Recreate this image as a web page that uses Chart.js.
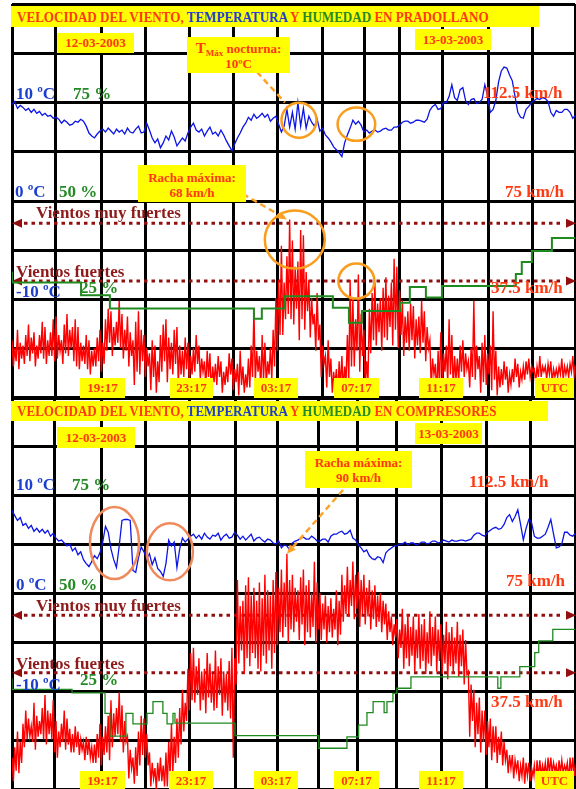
<!DOCTYPE html>
<html lang="es">
<head>
<meta charset="utf-8">
<title>Velocidad del viento, temperatura y humedad</title>
<script src="https://cdn.jsdelivr.net/npm/chart.js@4/dist/chart.umd.min.js"></script>
<style>
  html, body { margin: 0; padding: 0; background: #fff; }
  body { position: relative; width: 576px; height: 789px; overflow: hidden;
         font-family: "Liberation Serif", "Times New Roman", serif; font-weight: bold; }
  canvas { position: absolute; left: 0; }
  #pradollano { top: 0; }
  #compresores { top: 396px; }
  .t { position: absolute; white-space: nowrap; line-height: 1; font-size: 17px; }
  .az { color: #1d3fcf; }
  .vd { color: #258a25; }
  .rj { color: #ff3a12; }
  .gr { color: #8e1b1b; }
  .caja { position: absolute; background: #ffff00; color: #ff3a12; font-size: 13px;
          text-align: center; white-space: nowrap; box-sizing: border-box; }
  .dos { line-height: 15px; }
  .titulo { position: absolute; background: #ffff00; }
  .titulo .txt { position: absolute; left: 5.5px; font-size: 15px; line-height: 1; white-space: nowrap;
                 transform: scaleX(0.87); transform-origin: left top; }
  .tm { font-size: 15px; }
  .sub { font-size: 9px; vertical-align: -3px; line-height: 0; }
</style>
</head>
<body>
<canvas id="pradollano" width="576" height="400"></canvas>
<canvas id="compresores" width="576" height="393"></canvas>

<!-- Pradollano -->
<div class="titulo" style="left:11px;top:6px;width:528px;height:21px">
  <span class="txt" style="top:4px"><span class="rj">VELOCIDAD DEL VIENTO, </span><span class="az">TEMPERATURA</span> <span class="rj">Y</span> <span class="vd">HUMEDAD</span> <span class="rj">EN PRADOLLANO</span></span>
</div>
<div class="caja" style="left:57px;top:33px;width:77px;height:20px;line-height:20px">12-03-2003</div>
<div class="caja" style="left:415px;top:29px;width:76px;height:21px;line-height:21px">13-03-2003</div>
<div class="caja dos" style="left:187px;top:37px;width:103px;height:36px;padding-top:4px"><span class="tm">T</span><span class="sub">Máx</span> nocturna:<br>10ºC</div>
<div class="caja dos" style="left:138px;top:165px;width:108px;height:37px;padding-top:5px">Racha máxima:<br>68 km/h</div>

<div class="t az" style="left:16px;top:85px">10 ºC</div>
<div class="t vd" style="left:73px;top:85px">75 %</div>
<div class="t az" style="left:15px;top:183px">0 ºC</div>
<div class="t vd" style="left:59px;top:183px">50 %</div>
<div class="t az" style="left:16px;top:283px">-10 ºC</div>
<div class="t vd" style="left:80px;top:279px">25 %</div>
<div class="t rj" style="left:483px;top:84px">112.5 km/h</div>
<div class="t rj" style="left:505px;top:183px">75 km/h</div>
<div class="t rj" style="left:491px;top:279px">37.5 km/h</div>
<div class="t gr" style="left:36px;top:204px">Vientos muy fuertes</div>
<div class="t gr" style="left:16px;top:263px">Vientos fuertes</div>

<div class="caja" style="left:80px;top:378px;width:45px;height:20px;line-height:20px">19:17</div>
<div class="caja" style="left:170px;top:378px;width:43px;height:20px;line-height:20px">23:17</div>
<div class="caja" style="left:254px;top:378px;width:44px;height:20px;line-height:20px">03:17</div>
<div class="caja" style="left:334px;top:378px;width:45px;height:20px;line-height:20px">07:17</div>
<div class="caja" style="left:419px;top:378px;width:44px;height:20px;line-height:20px">11:17</div>
<div class="caja" style="left:535px;top:378px;width:39px;height:20px;line-height:20px">UTC</div>

<!-- Compresores -->
<div class="titulo" style="left:11px;top:401px;width:537px;height:20px">
  <span class="txt" style="top:3px"><span class="rj">VELOCIDAD DEL VIENTO, </span><span class="az">TEMPERATURA</span> <span class="rj">Y</span> <span class="vd">HUMEDAD</span> <span class="rj">EN COMPRESORES</span></span>
</div>
<div class="caja" style="left:57px;top:427px;width:78px;height:21px;line-height:21px">12-03-2003</div>
<div class="caja" style="left:415px;top:423px;width:67px;height:21px;line-height:21px">13-03-2003</div>
<div class="caja dos" style="left:305px;top:451px;width:107px;height:37px;padding-top:4px">Racha máxima:<br>90 km/h</div>

<div class="t az" style="left:16px;top:476px">10 ºC</div>
<div class="t vd" style="left:72px;top:476px">75 %</div>
<div class="t az" style="left:16px;top:576px">0 ºC</div>
<div class="t vd" style="left:59px;top:576px">50 %</div>
<div class="t az" style="left:16px;top:676px">-10 ºC</div>
<div class="t vd" style="left:80px;top:671px">25 %</div>
<div class="t rj" style="left:469px;top:473px">112.5 km/h</div>
<div class="t rj" style="left:506px;top:572px">75 km/h</div>
<div class="t rj" style="left:491px;top:693px">37.5 km/h</div>
<div class="t gr" style="left:36px;top:597px">Vientos muy fuertes</div>
<div class="t gr" style="left:16px;top:655px">Vientos fuertes</div>

<div class="caja" style="left:80px;top:771px;width:45px;height:20px;line-height:20px">19:17</div>
<div class="caja" style="left:169px;top:771px;width:44px;height:20px;line-height:20px">23:17</div>
<div class="caja" style="left:254px;top:771px;width:44px;height:20px;line-height:20px">03:17</div>
<div class="caja" style="left:334px;top:771px;width:45px;height:20px;line-height:20px">07:17</div>
<div class="caja" style="left:419px;top:771px;width:44px;height:20px;line-height:20px">11:17</div>
<div class="caja" style="left:535px;top:771px;width:39px;height:20px;line-height:20px">UTC</div>

<script>
// Registro del 12-03-2003 15:15 al 13-03-2003 (horas desde el inicio)
const PASO = 0.125;     // horas entre muestras
const HORAS = 25.6;

// km/h: 0 abajo, 150 arriba; temperatura -20..20 ºC; humedad 0..100 %
const rejillaViento = [0, 18.75, 37.5, 56.25, 75, 93.75, 112.5, 131.25, 150];
const umbralFuertes = 44.5;
const umbralMuyFuertes = 66.5;

// ---- Pradollano ----
const pradRejillaHoras = [0, 2.0, 4.05, 6.05, 8.09, 10.09, 12.09, 14.14, 16.05, 17.64, 19.59, 21.68, 23.68, 25.6];

// máximo y mínimo del viento en cada intervalo
const pradVientoMax = [
  22, 19, 26, 21, 20, 24, 28, 23, 25, 20, 24, 29, 27, 22, 25, 30, 31, 24, 22, 28,
  32, 26, 27, 30, 27, 21, 20, 24, 22, 18, 19, 23, 26, 21, 30, 34, 33, 27, 29, 37,
  32, 26, 31, 25, 22, 29, 33, 26, 24, 19, 17, 22, 20, 14, 24, 28, 30, 23, 21, 26,
  27, 20, 18, 23, 21, 16, 19, 24, 20, 15, 14, 18, 17, 12, 13, 16, 14, 10, 12, 17,
  15, 11, 13, 18, 12, 9, 15, 20, 34, 18, 16, 24, 21, 14, 19, 26, 38, 45, 58, 44,
  54, 68, 60, 50, 52, 64, 62, 48, 45, 38, 32, 40, 28, 20, 16, 22, 15, 10, 11, 14,
  16, 12, 24, 45, 38, 30, 47, 32, 26, 14, 34, 40, 44, 36, 38, 42, 46, 39, 44, 53,
  50, 41, 37, 31, 33, 36, 35, 30, 31, 37, 33, 27, 22, 15, 13, 18, 25, 17, 20, 30,
  24, 16, 15, 20, 22, 17, 14, 19, 37, 20, 16, 21, 24, 17, 20, 33, 18, 12, 11, 14,
  12, 9, 11, 15, 13, 10, 12, 14, 15, 12, 11, 12, 16, 12, 12, 13, 14, 11, 11, 12,
  15, 12, 12, 13, 16, 13];
const pradVientoMin = [
  12, 14, 11, 15, 13, 16, 14, 17, 12, 15, 17, 15, 13, 16, 16, 14, 15, 18, 13, 17,
  16, 19, 14, 12, 11, 14, 13, 11, 9, 12, 12, 14, 10, 13, 18, 21, 16, 20, 21, 19,
  15, 18, 12, 16, 5, 10, 9, 14, 8, 12, 3, 8, 2, 6, 10, 14, 6, 11, 9, 13,
  5, 9, 8, 11, 6, 9, 10, 13, 7, 10, 4, 8, 2, 6, 5, 8, 2, 5, 6, 9,
  3, 6, 1, 5, 2, 4, 4, 8, 6, 10, 3, 7, 5, 9, 7, 12, 18, 24, 24, 30,
  32, 30, 28, 34, 22, 30, 26, 33, 23, 28, 18, 22, 8, 13, 4, 8, 2, 5, 1, 4,
  3, 6, 6, 12, 12, 18, 10, 16, 3, 7, 17, 22, 20, 25, 18, 23, 22, 27, 20, 26,
  19, 24, 16, 21, 18, 22, 15, 20, 17, 21, 14, 19, 4, 9, 1, 5, 6, 10, 5, 9,
  3, 7, 6, 10, 8, 11, 4, 8, 7, 11, 2, 6, 5, 9, 3, 7, 1, 4, 5, 7,
  2, 5, 6, 8, 4, 7, 7, 9, 8, 10, 6, 8, 8, 10, 7, 9, 6, 8, 8, 9,
  7, 9, 8, 10, 9, 11];
const pradTemp = [
  9.8, 10.1, 9.4, 9.7, 9.5, 9.2, 9.4, 9.0, 9.3, 8.9, 9.1, 8.7, 8.9, 8.6, 8.7, 8.4, 8.5, 8.3, 7.9, 8.2,
  8.0, 7.7, 7.8, 8.1, 8.0, 8.3, 8.1, 7.6, 6.9, 6.6, 6.4, 6.8, 7.1, 7.3, 7.0, 7.4, 7.1, 6.8, 7.3, 7.0,
  7.2, 6.8, 7.4, 7.0, 6.9, 7.3, 7.6, 6.9, 7.0, 7.9, 7.2, 6.4, 5.9, 6.3, 5.4, 5.9, 6.6, 6.2, 7.1, 6.5,
  5.6, 6.0, 6.4, 6.1, 6.9, 7.5, 7.9, 7.2, 7.0, 7.3, 6.6, 7.1, 7.5, 6.8, 7.0, 6.6, 7.2, 6.7, 6.1, 5.6,
  5.1, 5.8, 6.4, 6.9, 7.5, 7.9, 8.5, 8.2, 8.8, 8.4, 8.6, 8.9, 8.5, 8.8, 8.1, 8.4, 8.6, 7.8, 7.0, 7.6,
  9.3, 7.5, 9.0, 7.3, 10.0, 7.6, 9.4, 7.4, 8.6, 8.0, 7.6, 8.3, 7.1, 7.4, 6.7, 6.4, 6.0, 5.5, 5.2, 4.9,
  4.5, 5.9, 6.7, 7.4, 8.2, 7.8, 8.1, 7.7, 7.0, 7.2, 6.9, 7.1, 7.2, 7.0, 7.1, 7.3, 7.4, 7.2, 7.2, 7.5,
  7.5, 7.7, 8.0, 8.1, 8.1, 7.9, 8.0, 8.2, 8.2, 8.1, 8.0, 8.3, 9.2, 9.6, 9.8, 9.3, 9.4, 10.0, 10.0, 10.6,
  11.8, 10.5, 10.2, 11.3, 11.5, 10.2, 9.8, 10.3, 10.4, 9.9, 10.0, 10.3, 11.8, 10.7, 9.0, 9.3, 10.2, 12.1, 13.2, 13.6,
  13.5, 12.8, 12.2, 10.6, 9.0, 8.5, 8.4, 9.3, 9.6, 10.0, 10.2, 10.4, 10.3, 10.5, 10.4, 10.1, 9.0, 8.6, 9.2, 9.0,
  9.0, 9.3, 9.3, 9.0, 8.4, 8.7];
const pradHumHoras = [0, 3.14, 4.45, 11.0, 11.36, 12.41, 14.59, 15.32, 15.91, 17.64, 18.09, 18.82, 19.55,
  22.91, 23.18, 23.64, 24.55, 25.5, 25.6];
const pradHum = [32.1, 29.3, 26.1, 22.7, 20.1, 22.7, 25.8, 22.9, 19.1, 22.1, 24.2, 28.2, 25.5,
  28.4, 31.5, 34.5, 37.3, 40.6, 40.6];

// ---- Compresores ----
const compRejillaHoras = [0, 1.95, 4.05, 6.05, 8.05, 10.14, 12.09, 13.95, 15.73, 17.5, 19.55, 21.59, 23.59, 25.6];

const compVientoMax = [
  12, 16, 22, 18, 25, 30, 27, 24, 33, 28, 26, 31, 36, 30, 29, 34, 26, 22, 25, 30,
  27, 23, 21, 24, 22, 19, 18, 20, 19, 16, 17, 21, 25, 20, 24, 28, 34, 29, 31, 37,
  32, 26, 20, 15, 12, 16, 22, 28, 27, 21, 14, 10, 8, 10, 12, 9, 14, 18, 25, 20,
  27, 31, 38, 33, 46, 52, 54, 47, 50, 45, 46, 52, 48, 44, 53, 47, 50, 45, 44, 49,
  54, 50, 80, 70, 72, 78, 81, 74, 77, 72, 79, 73, 82, 76, 74, 80, 83, 77, 84, 79,
  90, 80, 82, 77, 76, 81, 84, 78, 80, 75, 87, 79, 75, 71, 74, 70, 73, 69, 76, 72,
  82, 78, 85, 80, 87, 82, 83, 80, 82, 77, 80, 76, 78, 74, 75, 72, 71, 68, 66, 63,
  65, 61, 69, 63, 67, 62, 66, 61, 67, 63, 65, 60, 68, 62, 66, 61, 63, 59, 64, 60,
  62, 58, 64, 59, 61, 57, 45, 40, 38, 33, 35, 30, 30, 26, 27, 24, 24, 20, 22, 18,
  15, 13, 13, 11, 11, 9, 12, 10, 10, 8, 9, 11, 11, 9, 10, 12, 12, 10, 9, 11,
  11, 9, 10, 12, 12, 10];
const compVientoMin = [
  3, 7, 6, 10, 16, 19, 20, 18, 15, 20, 21, 19, 17, 21, 19, 14, 12, 16, 18, 15,
  17, 14, 14, 16, 13, 15, 11, 13, 12, 10, 10, 12, 9, 13, 14, 11, 16, 20, 21, 18,
  14, 18, 4, 8, 2, 5, 9, 13, 12, 9, 1, 4, 0, 3, 3, 1, 1, 5, 6, 10,
  12, 17, 22, 26, 30, 34, 33, 36, 30, 34, 29, 35, 33, 30, 31, 36, 28, 33, 30, 27,
  12, 40, 48, 53, 44, 50, 47, 52, 50, 46, 45, 51, 48, 53, 46, 52, 55, 60, 58, 62,
  56, 61, 60, 64, 57, 63, 55, 60, 58, 62, 56, 61, 57, 61, 56, 60, 58, 61, 55, 59,
  64, 67, 66, 70, 65, 69, 62, 67, 63, 66, 61, 65, 62, 64, 60, 63, 57, 60, 55, 58,
  50, 54, 46, 50, 47, 51, 45, 50, 46, 49, 44, 48, 47, 51, 45, 49, 44, 48, 42, 47,
  44, 48, 43, 47, 40, 44, 20, 26, 16, 21, 14, 18, 13, 16, 11, 14, 10, 13, 9, 11,
  6, 8, 4, 7, 3, 5, 2, 5, 3, 5, 2, 4, 5, 6, 4, 6, 6, 7, 4, 6,
  6, 7, 3, 6, 5, 7];
const compTemp = [
  8.4, 7.9, 7.4, 7.7, 6.9, 7.1, 6.6, 6.9, 6.3, 6.6, 6.2, 6.5, 6.1, 6.4, 5.8, 6.1, 5.6, 5.3, 5.4, 5.1,
  4.8, 5.0, 4.3, 4.6, 3.9, 4.2, 3.4, 3.0, 2.7, 3.2, 3.8, 3.5, 4.1, 5.2, 6.8, 6.2, 4.5, 3.4, 2.6, 4.8,
  7.4, 7.5, 7.5, 7.4, 2.3, 2.1, 3.6, 4.7, 4.2, 3.5, 4.0, 2.9, 3.6, 2.5, 2.2, 1.7, 3.0, 5.4, 4.8, 5.2,
  2.6, 4.5, 5.6, 5.2, 5.5, 5.8, 6.0, 5.6, 5.9, 5.5, 6.1, 5.7, 5.5, 5.9, 5.8, 6.1, 5.4, 5.8, 6.0, 5.6,
  5.7, 6.2, 5.9, 5.5, 5.8, 5.4, 5.7, 6.0, 5.3, 5.6, 5.7, 5.4, 5.2, 5.5, 5.4, 5.1, 5.0, 5.3, 4.6, 4.9,
  4.8, 4.4, 5.1, 5.3, 5.4, 5.6, 5.7, 5.5, 5.5, 5.8, 5.6, 5.3, 5.3, 5.5, 5.5, 5.2, 5.8, 6.0, 6.0, 6.2,
  6.3, 6.0, 6.1, 6.4, 5.6, 5.4, 4.9, 4.6, 4.2, 4.4, 3.8, 3.5, 3.4, 3.7, 3.6, 3.1, 4.1, 4.4, 4.6, 4.8,
  4.8, 5.0, 5.0, 5.2, 4.9, 5.1, 5.1, 4.9, 5.0, 5.2, 5.2, 5.0, 5.1, 5.3, 5.3, 5.1, 5.2, 5.4, 5.3, 5.2,
  5.4, 5.3, 5.3, 5.4, 5.4, 5.3, 5.4, 5.5, 5.9, 6.1, 6.1, 5.9, 5.8, 6.2, 6.4, 6.6, 6.7, 6.5, 6.6, 7.0,
  7.7, 8.0, 7.3, 7.8, 8.5, 7.0, 5.4, 6.6, 7.5, 7.2, 5.8, 5.6, 5.6, 5.8, 6.0, 6.7, 7.5, 6.0, 4.6, 4.7,
  5.0, 6.2, 6.2, 5.9, 5.8, 6.1];
const compHumHoras = [0, 2.73, 4.23, 4.45, 5.18, 5.5, 6.14, 6.41, 6.86, 7.05, 7.32, 7.41, 10.14, 13.95,
  15.23, 15.76, 16.14, 16.42, 16.92, 17.05, 17.32, 17.5, 18.14, 22.09, 22.23, 23.09, 23.77, 23.95,
  24.59, 24.77, 25.6];
const compHum = [28.2, 25.4, 24.5, 19.3, 13.5, 19.3, 16.6, 19.3, 22.3, 19.3, 16.6, 19.3, 16.8, 13.6,
  10.4, 13.3, 16.3, 19.5, 22.3, 19.5, 22.3, 24.4, 25.7, 28.6, 25.7, 28.6, 31.2, 34.8,
  37.8, 40.7, 40.7];

function flecha(ctx, x, y, ang, largo, ancho) {
  ctx.save();
  ctx.translate(x, y);
  ctx.rotate(ang);
  ctx.beginPath();
  ctx.moveTo(0, 0);
  ctx.lineTo(-largo, -ancho / 2);
  ctx.lineTo(-largo, ancho / 2);
  ctx.closePath();
  ctx.fill();
  ctx.restore();
}

// umbrales de viento, círculos y flechas discontinuas
function marcas(cfg) {
  return {
    id: 'marcas',
    beforeDatasetsDraw(chart) {
      const ctx = chart.ctx, a = chart.chartArea, ys = chart.scales.y;
      ctx.save();
      ctx.strokeStyle = ctx.fillStyle = '#930f0f';
      [umbralMuyFuertes, umbralFuertes].forEach(v => {
        const py = ys.getPixelForValue(v);
        ctx.lineWidth = 3;
        ctx.setLineDash([3.5, 4]);
        ctx.beginPath();
        ctx.moveTo(a.left + 12, py);
        ctx.lineTo(a.right - 11, py);
        ctx.stroke();
        ctx.setLineDash([]);
        flecha(ctx, a.left, py, Math.PI, 10, 9);
        flecha(ctx, a.right + 1, py, 0, 10, 9);
      });
      ctx.restore();
    },
    afterDatasetsDraw(chart) {
      const ctx = chart.ctx, xs = chart.scales.x;
      ctx.save();
      cfg.circulos.forEach(c => {
        ctx.strokeStyle = c.color;
        ctx.lineWidth = 2.5;
        ctx.beginPath();
        ctx.ellipse(xs.getPixelForValue(c.x), chart.scales[c.eje].getPixelForValue(c.y), c.rx, c.ry, 0, 0, Math.PI * 2);
        ctx.stroke();
      });
      cfg.guias.forEach(g => {
        const x1 = xs.getPixelForValue(g.x), y1 = chart.scales[g.eje].getPixelForValue(g.y);
        const [x0, y0] = g.desde;
        const ang = Math.atan2(y1 - y0, x1 - x0);
        const fin = g.flecha ? 7 : 0;
        ctx.strokeStyle = ctx.fillStyle = '#fca326';
        ctx.lineWidth = 2.5;
        ctx.setLineDash([6, 4]);
        ctx.beginPath();
        ctx.moveTo(x0, y0);
        ctx.lineTo(x1 - fin * Math.cos(ang), y1 - fin * Math.sin(ang));
        ctx.stroke();
        ctx.setLineDash([]);
        if (g.flecha) flecha(ctx, x1, y1, ang, 9, 8);
      });
      ctx.restore();
    }
  };
}

function grafica(id, d) {
  // cada intervalo: máximo al principio, mínimo a mitad
  const viento = [];
  d.vMax.forEach((v, i) => {
    viento.push({ x: i * PASO, y: v });
    viento.push({ x: i * PASO + PASO / 2, y: d.vMin[i] });
  });
  const temp = d.temp.map((t, i) => ({ x: i * PASO, y: t }));
  const hum = d.humHoras.map((h, i) => ({ x: h, y: d.hum[i] }));
  const rejilla = { color: '#000', lineWidth: 3, drawTicks: false };

  return new Chart(document.getElementById(id), {
    type: 'line',
    data: {
      datasets: [
        { label: 'Humedad', data: hum, yAxisID: 'yH', borderColor: '#1f8a1f', borderWidth: d.grosorHum,
          stepped: 'after', pointRadius: 0, order: 1 },
        { label: 'Temperatura', data: temp, yAxisID: 'yT', borderColor: '#0c14e6', borderWidth: 1.3,
          pointRadius: 0, order: 2 },
        { label: 'Viento', data: viento, yAxisID: 'y', borderColor: '#ff0000', borderWidth: 1.4,
          pointRadius: 0, order: 3 }
      ]
    },
    options: {
      responsive: false,
      animation: false,
      events: [],
      layout: { padding: d.padding },
      plugins: { legend: { display: false }, tooltip: { enabled: false } },
      scales: {
        x: {
          type: 'linear', min: 0, max: HORAS,
          afterBuildTicks: ax => { ax.ticks = d.rejillaHoras.map(v => ({ value: v })); },
          ticks: { display: false }, grid: rejilla, border: { display: false }
        },
        y: {
          min: 0, max: 150,
          afterBuildTicks: ax => { ax.ticks = rejillaViento.map(v => ({ value: v })); },
          ticks: { display: false }, grid: rejilla, border: { display: false }
        },
        yT: { display: false, min: -20, max: 20 },
        yH: { display: false, min: 0, max: 100 }
      }
    },
    plugins: [marcas(d.marcas)]
  });
}

grafica('pradollano', {
  vMax: pradVientoMax, vMin: pradVientoMin, temp: pradTemp,
  humHoras: pradHumHoras, hum: pradHum, grosorHum: 2,
  rejillaHoras: pradRejillaHoras,
  padding: { left: 12, right: 1, top: 4, bottom: 2 },
  marcas: {
    circulos: [
      { x: 13.05, y: 8.2, eje: 'yT', rx: 17.5, ry: 17.5, color: '#fa9d1c' },
      { x: 15.66, y: 7.8, eje: 'yT', rx: 18.8, ry: 16.7, color: '#fa9d1c' },
      { x: 12.86, y: 60.3, eje: 'y', rx: 30, ry: 29, color: '#fa9d1c' },
      { x: 15.66, y: 44.5, eje: 'y', rx: 18, ry: 17.5, color: '#fa9d1c' }
    ],
    guias: [
      { desde: [257, 72], x: 12.41, y: 10, eje: 'yT', flecha: false },
      { desde: [243, 194], x: 12.5, y: 68, eje: 'y', flecha: true }
    ]
  }
});

grafica('compresores', {
  vMax: compVientoMax, vMin: compVientoMin, temp: compTemp,
  humHoras: compHumHoras, hum: compHum, grosorHum: 1.3,
  rejillaHoras: compRejillaHoras,
  padding: { left: 12, right: 1, top: 1, bottom: 0 },
  marcas: {
    circulos: [
      { x: 4.66, y: 5.1, eje: 'yT', rx: 24.5, ry: 36, color: '#f08a5d' },
      { x: 7.18, y: 4.2, eje: 'yT', rx: 23, ry: 28.5, color: '#f08a5d' }
    ],
    guias: [
      { desde: [343, 94], x: 12.5, y: 90, eje: 'y', flecha: true }
    ]
  }
});
</script>
</body>
</html>
